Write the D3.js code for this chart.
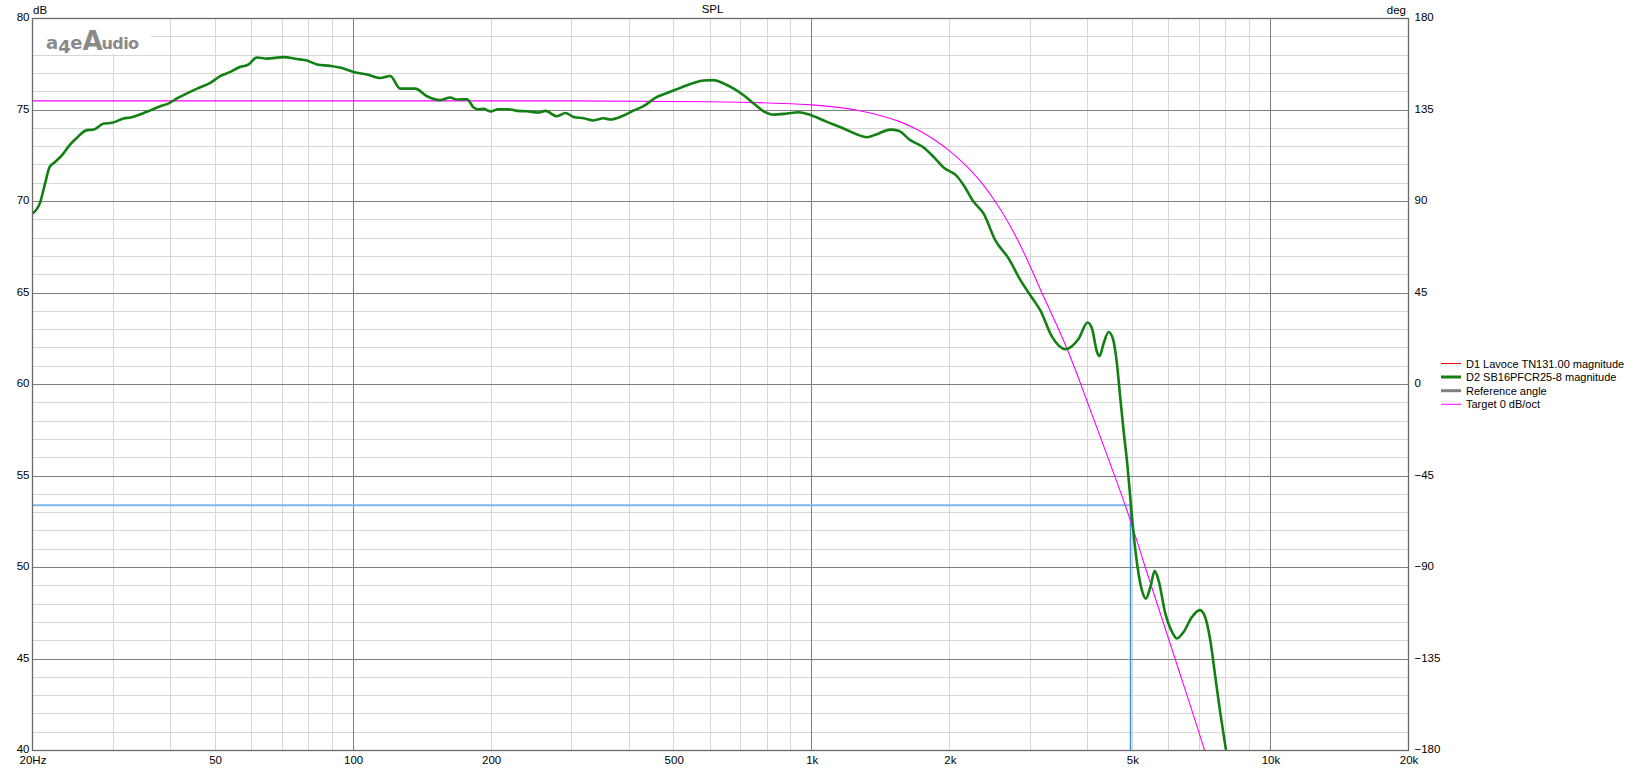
<!DOCTYPE html>
<html><head><meta charset="utf-8">
<script src="https://cdn.jsdelivr.net/npm/d3@7"></script>
<style>
html,body{margin:0;padding:0;background:#fff;}
svg{display:block;font-family:"Liberation Sans",Arial,sans-serif;}
</style></head>
<body><svg id="c" width="1634" height="769"></svg>
<script>
// ---- data ----
const xTickValues = [20,50,100,200,500,1000,2000,5000,10000,20000];
const xTickLabels = ["20Hz","50","100","200","500","1k","2k","5k","10k","20k"];
const dbTicks = [40,45,50,55,60,65,70,75,80];
const degTicks = [-180,-135,-90,-45,0,45,90,135,180];
const legendNames = ["D1 Lavoce TN131.00 magnitude","D2 SB16PFCR25-8 magnitude","Reference angle","Target 0 dB/oct"];
const legendColors = ["#ff0000","#138013","#808080","#ff00ff"];
const legendWidths = [1,3,3,1];

// D2 SB16PFCR25-8 magnitude (Hz, dB)
const d2Freq = [20.0,20.8,21.3,21.8,22.4,23.2,24.1,24.9,26.3,27.2,28.6,29.8,31.6,32.7,35.5,38.0,39.3,41.3,45.7,48.8,51.3,54.0,56.3,59.2,61.7,64.9,70.5,75.4,79.3,83.4,89.1,95.3,100.2,107.2,114.6,120.5,126.7,136.6,144.9,154.9,162.9,168.4,177.1,183.1,187.7,192.4,199.1,207.5,218.2,227.6,239.3,253.7,262.4,278.3,290.2,302.7,318.1,334.3,351.6,363.8,389,408.9,429.8,459.9,483.5,516.8,552.6,580.9,610.9,642.4,675.6,710.3,747,785.3,825.7,883.1,935.8,993.1,1079,1173,1256,1319,1386,1483,1546,1640,1753,1843,1938,2073,2144,2254,2370,2512,2686,2851,3048,3148,3342,3571,3818,3994,4083,4187,4241,4328,4438,4535,4627,4704,4784,4881,4947,5030,5132,5245,5352,5474,5593,5703,5900,6102,6257,6467,6746,7010,7178,7397,7585,7780,8003];
const d2Db = [69.34,69.98,70.98,71.89,72.16,72.53,73.08,73.44,73.90,73.93,74.26,74.30,74.54,74.59,74.90,75.21,75.32,75.63,76.17,76.48,76.85,77.08,77.32,77.49,77.87,77.81,77.89,77.79,77.70,77.49,77.41,77.27,77.08,76.94,76.75,76.86,76.17,76.17,75.75,75.54,75.68,75.57,75.59,75.14,75.04,75.06,74.92,75.04,75.04,74.95,74.93,74.86,74.95,74.66,74.84,74.62,74.55,74.43,74.55,74.48,74.70,74.97,75.21,75.72,75.93,76.21,76.48,76.61,76.63,76.45,76.17,75.81,75.36,74.93,74.75,74.81,74.88,74.73,74.35,73.99,73.66,73.51,73.68,73.93,73.86,73.35,72.95,72.44,71.86,71.38,70.89,69.98,69.34,67.89,66.89,65.70,64.6,64.06,62.6,61.93,62.5,63.39,63.06,61.78,61.55,62.24,62.87,62.5,61.15,59.32,57.5,55.5,53.86,51.86,50.03,48.76,48.3,48.94,49.8,49.3,47.49,46.48,46.12,46.48,47.3,47.67,47.4,46.0,44.0,42.0,40.0];

// Target 0 dB/oct (Hz, dB)
const targetFreq = [20,300,600,830,1000,1116,1256,1386,1535,1697,1843,2000,2180,2370,2535,2710,2946,3176,3342,3602,3855,3994,4477,4908,5337,6199,7187,7600];
const targetDb = [75.5,75.5,75.45,75.37,75.28,75.17,74.99,74.75,74.42,73.93,73.40,72.75,71.90,70.88,69.85,68.65,66.85,65.0,63.8,61.95,60.05,59.0,55.65,52.85,50.0,45.0,40.0,38.0];

// cursor
const cursorFreq = 4960;
const cursorDb = 53.4;

// ---- drawing ----
const L = 32.5, R = 1408.5, T = 18.5, B = 750.5;
const svg = d3.select("#c");
const x = d3.scaleLog().domain([20,20000]).range([L,R]);
const y = d3.scaleLinear().domain([40,80]).range([B,T]);
const yDeg = d3.scaleLinear().domain([-180,180]).range([B,T]);
const px = v => Math.round(v - 0.5) + 0.5;

const minorX = [];
[10,100,1000,10000].forEach(d => { for (let k=1;k<=9;k++){ const f=k*d; if (f>20 && f<20000) minorX.push(f);} });
const majorX = [100,1000,10000];
const minorY = d3.range(41,80,1).filter(v => v%5!==0);
const majorY = [45,50,55,60,65,70,75];

const g = svg.append("g");
g.selectAll(".mx").data(minorX.filter(f=>!majorX.includes(f))).enter().append("line")
 .attr("x1",d=>px(x(d))).attr("x2",d=>px(x(d))).attr("y1",T).attr("y2",B)
 .attr("stroke","#d7d7d7").attr("stroke-width",1);
g.selectAll(".my").data(minorY).enter().append("line")
 .attr("y1",d=>px(y(d))).attr("y2",d=>px(y(d))).attr("x1",L).attr("x2",R)
 .attr("stroke","#d7d7d7").attr("stroke-width",1);
g.selectAll(".Mx").data(majorX).enter().append("line")
 .attr("x1",d=>px(x(d))).attr("x2",d=>px(x(d))).attr("y1",T).attr("y2",B)
 .attr("stroke","#808080").attr("stroke-width",1);
g.selectAll(".My").data(majorY).enter().append("line")
 .attr("y1",d=>px(y(d))).attr("y2",d=>px(y(d))).attr("x1",L).attr("x2",R)
 .attr("stroke","#808080").attr("stroke-width",1);

// logo box + logo
svg.append("rect").attr("x",L+0.5).attr("y",T+0.5).attr("width",118).attr("height",35).attr("fill","#fff");
const logo = svg.append("text").attr("x",46).attr("y",49).attr("fill","#8a8a8a")
 .attr("font-family","DejaVu Sans, sans-serif").attr("font-weight","bold").attr("font-size",18);
logo.append("tspan").text("a");
logo.append("tspan").attr("dy",4).text("4");
logo.append("tspan").attr("dy",-4).attr("dx",-0.5).text("e");
logo.append("tspan").attr("font-size",26).attr("dy",0.5).text("A");
logo.append("tspan").attr("font-size",16).attr("dy",-0.5).attr("dx",-1).attr("letter-spacing",-0.6).text("udio");

// clip
svg.append("clipPath").attr("id","clip").append("rect").attr("x",L).attr("y",T).attr("width",R-L).attr("height",B-T);
const plot = svg.append("g").attr("clip-path","url(#clip)");

// cursor
plot.append("line").attr("x1",L).attr("x2",x(cursorFreq)).attr("y1",y(cursorDb)).attr("y2",y(cursorDb))
 .attr("stroke","#7ab8ec").attr("stroke-width",2);
plot.append("line").attr("x1",px(x(cursorFreq))).attr("x2",px(x(cursorFreq))).attr("y1",y(cursorDb)).attr("y2",B)
 .attr("stroke","#3a92e0").attr("stroke-width",1.5);

const target = targetFreq.map((f,i)=>[f,targetDb[i]]);
const d2 = d2Freq.map((f,i)=>[f,d2Db[i]]);
const line = d3.line().x(d=>x(d[0])).y(d=>y(d[1])).curve(d3.curveMonotoneX);
plot.append("path").attr("d",line(target)).attr("fill","none").attr("stroke","#ff00ff").attr("stroke-width",1.1);
plot.append("path").attr("d",line(d2)).attr("fill","none").attr("stroke","#138013").attr("stroke-width",2.6).attr("stroke-linejoin","round");

// border
svg.append("rect").attr("x",L).attr("y",T).attr("width",R-L).attr("height",B-T)
 .attr("fill","none").attr("stroke","#6a6a6a").attr("stroke-width",1.3);

// axes
const fs = 11.5;
const axL = svg.append("g").attr("transform",`translate(${L},0)`)
 .call(d3.axisLeft(y).tickValues(dbTicks).tickSize(0).tickPadding(3).tickFormat(d3.format("d")));
const axR = svg.append("g").attr("transform",`translate(${R},0)`)
 .call(d3.axisRight(yDeg).tickValues(degTicks).tickSize(0).tickPadding(6).tickFormat(d3.format("d")));
const axB = svg.append("g").attr("transform",`translate(0,${B})`)
 .call(d3.axisBottom(x).tickValues(xTickValues).tickSize(0).tickPadding(5).tickFormat((d,i)=>xTickLabels[i]));
[axL,axR,axB].forEach(a=>{ a.select(".domain").remove(); a.selectAll("text").attr("font-size",fs).attr("fill","#000").attr("font-family","Liberation Sans, Arial, sans-serif"); });
axL.selectAll("text").attr("dy","0.2em");
axR.selectAll("text").attr("dy","0.2em");

// titles
svg.append("text").attr("x",712.5).attr("y",13).attr("text-anchor","middle").attr("font-size",fs).text("SPL");
svg.append("text").attr("x",33).attr("y",14).attr("font-size",fs).text("dB");
svg.append("text").attr("x",1406).attr("y",14).attr("text-anchor","end").attr("font-size",fs).text("deg");

// legend
const lg = svg.append("g");
const ly = [363.5,377,390.7,404.3];
legendNames.forEach((n,i)=>{
  lg.append("line").attr("x1",1441).attr("x2",1461).attr("y1",ly[i]).attr("y2",ly[i])
    .attr("stroke",legendColors[i]).attr("stroke-width",legendWidths[i]);
  lg.append("text").attr("x",1466).attr("y",ly[i]+4).attr("font-size",11).text(n);
});
</script></body></html>
